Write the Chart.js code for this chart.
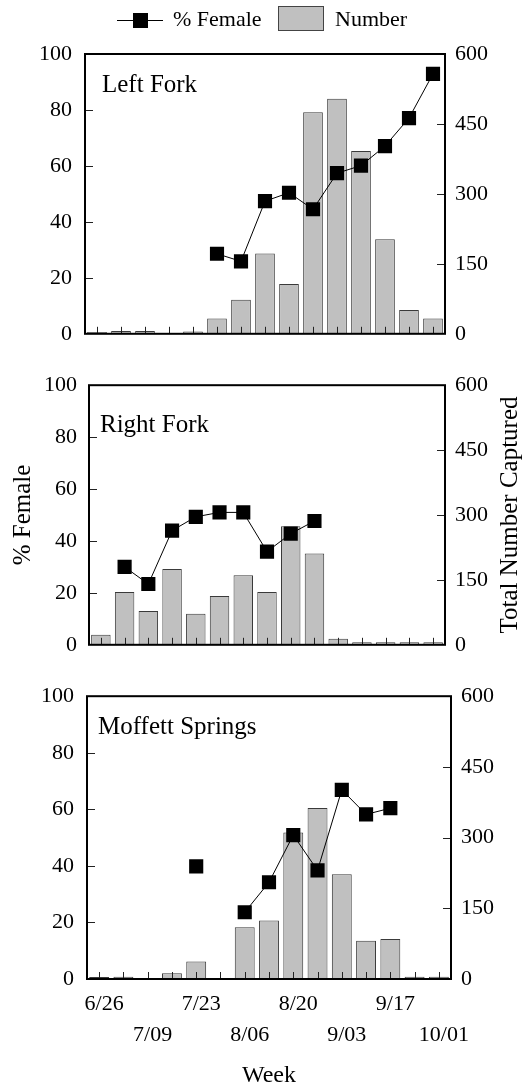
<!DOCTYPE html>
<html>
<head>
<meta charset="utf-8">
<script src="https://cdn.jsdelivr.net/npm/chart.js@4"></script>
<style>
  html, body { margin: 0; padding: 0; background: #fff; }
  #wrap { position: relative; width: 524px; height: 1088px; }
  canvas { position: absolute; left: 0; }
</style>
</head>
<body>
<div id="wrap">
  <canvas id="leftFork" width="524" height="360" style="top:0"></canvas>
  <canvas id="rightFork" width="524" height="310" style="top:360px"></canvas>
  <canvas id="moffett" width="524" height="418" style="top:670px"></canvas>
</div>
<script>
// weekly sampling dates, only every other one is labelled
const weeks = ['6/26', '7/02', '7/09', '7/16', '7/23', '7/30', '8/06', '8/13', '8/20', '8/27', '9/03', '9/10', '9/17', '9/24', '10/01'];
const weekTicks = ['6/26', '', '7/09', '', '7/23', '', '8/06', '', '8/20', '', '9/03', '', '9/17', '', '10/01'];
const pctTicks = [0, 20, 40, 60, 80, 100];
const numTicks = [0, 150, 300, 450, 600];

const leftForkNumber = [4, 6, 6, 0, 5, 33, 73, 172, 107, 475, 504, 392, 203, 51, 33];
const leftForkFemale = [null, null, null, null, null, 28.6, 25.9, 47.4, 50.4, 44.5, 57.4, 60.1, 67.1, 77.1, 92.9];

const rightForkNumber = [23, 122, 78, 175, 72, 113, 161, 122, 274, 211, 14, 6, 6, 6, 6];
const rightForkFemale = [null, 30.0, 23.4, 44.0, 49.3, 51.0, 51.0, 35.9, 42.8, 47.7, null, null, null, null, null];

const moffettNumber = [4, 5, 0, 12, 37, 0, 110, 124, 311, 363, 222, 81, 85, 5, 5];
const moffettFemale = [null, null, null, null, 39.8, null, 23.6, 34.2, 50.9, 38.4, 66.9, 58.2, 60.4, null, null];

const SERIF = '"Liberation Serif", "Times New Roman", serif';
Chart.defaults.font.family = SERIF;
Chart.defaults.color = '#000';

// frame, inward tick marks, panel name and right-hand title
const panelPlugin = {
  id: 'panel',
  afterDatasetsDraw(chart, args, opts) {
    const { ctx, chartArea: a, scales } = chart;
    ctx.save();
    ctx.strokeStyle = '#222';
    ctx.lineWidth = 1;
    ctx.beginPath();
    weeks.forEach((w, i) => {
      const x = Math.round(scales.x.getPixelForTick(i)) + 0.5;
      ctx.moveTo(x, a.bottom);
      ctx.lineTo(x, a.bottom - 7);
    });
    pctTicks.slice(1, -1).forEach((v) => {
      const y = Math.round(scales.y.getPixelForValue(v)) + 0.5;
      ctx.moveTo(a.left, y);
      ctx.lineTo(a.left + 8, y);
    });
    numTicks.slice(1, -1).forEach((v) => {
      const y = Math.round(scales.y1.getPixelForValue(v)) + 0.5;
      ctx.moveTo(a.right, y);
      ctx.lineTo(a.right - 8, y);
    });
    ctx.stroke();

    ctx.strokeStyle = '#000';
    ctx.lineWidth = 2;
    ctx.strokeRect(a.left, a.top, a.right - a.left, a.bottom - a.top);

    ctx.fillStyle = '#000';
    ctx.font = '25px ' + SERIF;
    ctx.textAlign = 'left';
    ctx.textBaseline = 'alphabetic';
    ctx.fillText(opts.name, a.left + opts.dx, a.top + opts.dy);

    if (opts.rightTitle) {
      ctx.translate(opts.rightTitleX, (a.top + a.bottom) / 2);
      ctx.rotate(-Math.PI / 2);
      ctx.textAlign = 'center';
      ctx.textBaseline = 'middle';
      ctx.fillText(opts.rightTitle, 0, 0);
    }
    ctx.restore();
  }
};

// legend above the top panel
const legendPlugin = {
  id: 'topLegend',
  afterDraw(chart) {
    const ctx = chart.ctx;
    ctx.save();
    ctx.strokeStyle = '#000';
    ctx.lineWidth = 1.2;
    ctx.beginPath();
    ctx.moveTo(117, 20.5);
    ctx.lineTo(163, 20.5);
    ctx.stroke();
    ctx.fillStyle = '#000';
    ctx.fillRect(133, 13, 15, 15);
    ctx.font = '22px ' + SERIF;
    ctx.textBaseline = 'middle';
    ctx.textAlign = 'left';
    ctx.fillText('% Female', 173, 20);
    ctx.fillStyle = '#c0c0c0';
    ctx.fillRect(278.5, 6.5, 45, 24);
    ctx.strokeStyle = '#444';
    ctx.lineWidth = 1;
    ctx.strokeRect(278.5, 6.5, 45, 24);
    ctx.fillStyle = '#000';
    ctx.fillText('Number', 335, 20);
    ctx.restore();
  }
};

function makePanel(id, p) {
  const el = document.getElementById(id);
  const H = el.height;
  return new Chart(el, {
    type: 'bar',
    data: {
      labels: weeks,
      datasets: [
        {
          type: 'line',
          label: '% Female',
          data: p.female,
          yAxisID: 'y',
          order: 0,
          borderColor: '#000',
          borderWidth: 1,
          tension: 0,
          spanGaps: false,
          pointStyle: 'rect',
          pointRadius: 10,
          pointHoverRadius: 10,
          pointBackgroundColor: '#000',
          pointBorderColor: '#000',
          pointBorderWidth: 0,
        },
        {
          type: 'bar',
          label: 'Number',
          data: p.number,
          yAxisID: 'y1',
          order: 1,
          backgroundColor: '#c0c0c0',
          borderColor: '#3a3a3a',
          borderWidth: 1,
          barPercentage: 0.82,
          categoryPercentage: 1,
        },
      ],
    },
    options: {
      responsive: false,
      animation: false,
      events: [],
      layout: { autoPadding: false, padding: { top: p.top, left: 0, right: 0, bottom: 0 } },
      plugins: {
        legend: { display: false },
        tooltip: { enabled: false },
        panel: { name: p.name, dx: p.dx, dy: p.dy, rightTitle: p.rightTitle, rightTitleX: 510 },
      },
      scales: {
        x: {
          offset: true,
          grid: { display: false, drawTicks: false },
          border: { display: false },
          ticks: {
            display: !!p.showX,
            autoSkip: false,
            maxRotation: 0,
            padding: 10,
            labelOffset: 5,
            font: { size: 22, lineHeight: 1.41 },
            callback: (v, i) => {
              if (!weekTicks[i]) return '';
              return i % 4 === 0 ? [weekTicks[i], ''] : ['', weekTicks[i]];
            },
          },
          title: {
            display: !!p.showX,
            text: 'Week',
            font: { size: 24, lineHeight: 1 },
            padding: { top: 0, bottom: 0 },
          },
          afterFit: (s) => { s.height = H - p.bottom; },
        },
        y: {
          position: 'left',
          min: 0,
          max: 100,
          grid: { display: false, drawTicks: false },
          border: { display: false },
          ticks: { stepSize: 20, padding: p.leftPad, font: { size: 22 } },
          title: {
            display: !!p.leftTitle,
            text: p.leftTitle || '',
            font: { size: 25, lineHeight: 1 },
            padding: { top: 11, bottom: 0 },
          },
          afterFit: (s) => { s.width = p.left; },
        },
        y1: {
          position: 'right',
          min: 0,
          max: 600,
          grid: { display: false, drawTicks: false },
          border: { display: false },
          ticks: { stepSize: 150, padding: 10, font: { size: 22 } },
          afterFit: (s) => { s.width = 524 - p.right; },
        },
      },
    },
    plugins: p.legend ? [panelPlugin, legendPlugin] : [panelPlugin],
  });
}

makePanel('leftFork', {
  name: 'Left Fork', number: leftForkNumber, female: leftForkFemale,
  top: 54, bottom: 338, left: 85, right: 445, leftPad: 13, dx: 17, dy: 38, legend: true,
});
makePanel('rightFork', {
  name: 'Right Fork', number: rightForkNumber, female: rightForkFemale,
  top: 15, bottom: 289, left: 89, right: 445, leftPad: 12, dx: 11, dy: 47,
  leftTitle: '% Female', rightTitle: 'Total Number Captured',
});
makePanel('moffett', {
  name: 'Moffett Springs', number: moffettNumber, female: moffettFemale,
  top: 22, bottom: 309, left: 87, right: 451, leftPad: 13, dx: 11, dy: 38, showX: true,
});
</script>
</body>
</html>
